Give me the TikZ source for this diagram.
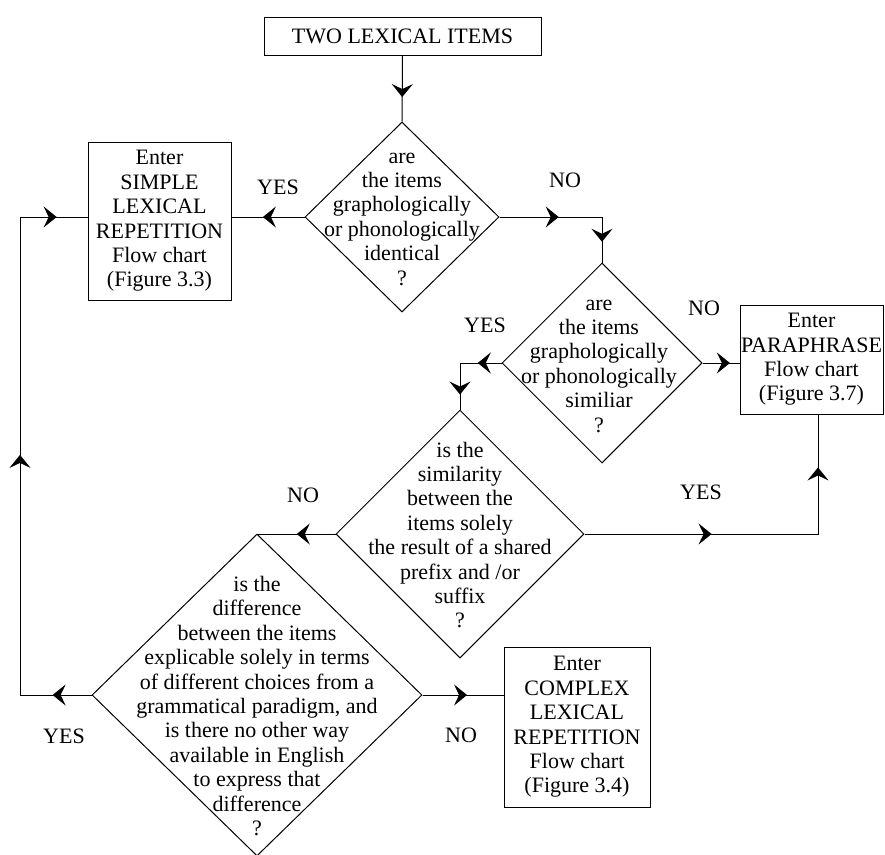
\documentclass[tikz,border=0pt]{standalone}
\usepackage{fontspec}
\setmainfont{Liberation Serif}
\usetikzlibrary{shapes.geometric,arrows.meta,decorations.markings}

\newcommand\chartfont{\fontsize{22}{24.4}\selectfont}

\tikzset{
  decision/.style={draw, diamond, inner sep=0pt},
  chartbox/.style={draw, rectangle, inner sep=0pt, align=center, font=\chartfont},
  qtext/.style={align=center, inner sep=0pt, font=\chartfont},
  answer/.style={inner sep=0pt, font=\chartfont},
  flow/.style={line width=1pt},
  arrowsat/.style={postaction={decorate,
      decoration={markings, mark=at position #1 with {\arrow{>}}}}},
}

\begin{document}
\begin{tikzpicture}[x=1pt, y=-1pt, line width=1pt,
    >={Stealth[length=13pt, width=21pt, inset=5pt]}]
  \useasboundingbox (0,0) rectangle (885,854);

  % start box
  \node[chartbox, minimum width=277pt, minimum height=38pt] (start) at (402.5,36)
    {TWO LEXICAL ITEMS};

  % decision diamonds
  \node[decision, minimum width=194pt, minimum height=190pt] (d1) at (402,217) {};
  \node[qtext] (t1) at (402,219)
    {are\\the items\\graphologically\\or phonologically\\identical\\?};

  \node[decision, minimum width=200pt, minimum height=200pt] (d2) at (602,363) {};
  \node[qtext] (t2) at (599,366)
    {are\\the items\\graphologically\\or phonologically\\similiar\\?};

  \node[decision, minimum width=248pt, minimum height=248pt] (d3) at (460,534) {};
  \node[qtext] (t3) at (460,535)
    {is the\\similarity\\between the\\items solely\\the result of a shared\\prefix and /or\\suffix\\?};

  \node[decision, minimum width=330pt, minimum height=322pt] (d4) at (257,695) {};
  \node[qtext] (t4) at (257,706)
    {is the\\difference\\between the items\\explicable solely in terms\\of different choices from a\\grammatical paradigm, and\\is there no other way\\available in English\\to express that\\difference\\?};

  % outcome boxes
  \node[chartbox, minimum width=143pt, minimum height=158pt] (simple) at (159.5,221)
    {Enter\\SIMPLE\\LEXICAL\\REPETITION\\Flow chart\\(Figure 3.3)};
  \node[chartbox, minimum width=143pt, minimum height=109pt] (para) at (811.5,359.5)
    {Enter\\PARAPHRASE\\Flow chart\\(Figure 3.7)};
  \node[chartbox, minimum width=146pt, minimum height=160pt] (complex) at (577,727)
    {Enter\\COMPLEX\\LEXICAL\\REPETITION\\Flow chart\\(Figure 3.4)};

  % x position of the return line on the left
  \coordinate (loop) at (20,0);

  % connectors
  \draw[flow, arrowsat=0.63] (start.south) -- (d1.north);
  \draw[flow, arrowsat=0.57] (d1.west) -- (d1.west -| simple.east);
  \draw[flow, arrowsat=0.40, arrowsat=0.86] (d1.east) -| (d2.north);
  \draw[flow, arrowsat=0.74] (d2.east) -- (d2.east -| para.west);
  \draw[flow, arrowsat=0.27, arrowsat=0.83] (d2.west) -| (d3.north);
  \draw[flow, arrowsat=0.36, arrowsat=0.85] (d3.east) -| ([xshift=6.5pt]para.south);
  \draw[flow, arrowsat=0.49] (d3.west) -| (d4.north);
  \draw[flow, arrowsat=0.063, arrowsat=0.505, arrowsat=0.95]
    (d4.west) -- (d4.west -| loop) |- (d1.west -| simple.west);
  \draw[flow, arrowsat=0.55] (d4.east) -- (d4.east -| complex.west);

  % branch labels
  \node[answer] (y1) at (278,187) {YES};
  \node[answer] (n1) at (565,180) {NO};
  \node[answer] (y2) at (485,325) {YES};
  \node[answer] (n2) at (704,308) {NO};
  \node[answer] (y3) at (701,492) {YES};
  \node[answer] (n3) at (303,495) {NO};
  \node[answer] (y4) at (64,736) {YES};
  \node[answer] (n4) at (461,735) {NO};
\end{tikzpicture}
\end{document}
